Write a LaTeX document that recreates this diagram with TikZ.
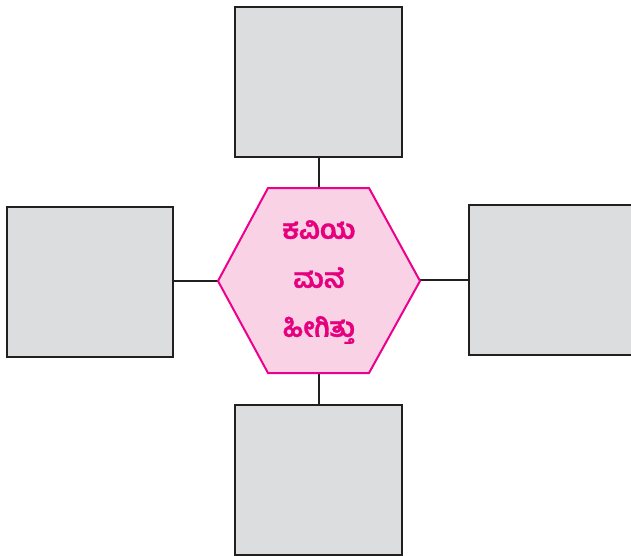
\documentclass[tikz,border=0pt]{standalone}
\usepackage{fontspec}
\newfontfamily\kanfont[Script=Kannada,FakeBold=1.2]{Hind Mysuru}
\definecolor{boxfill}{HTML}{DCDDDF}
\definecolor{boxline}{HTML}{231F20}
\definecolor{hexfill}{HTML}{F9D3E5}
\definecolor{hexline}{HTML}{EC008C}
\definecolor{hextext}{HTML}{E6007E}
\tikzset{
  blank/.style={draw=boxline, fill=boxfill, line width=2.4pt},
  hexshape/.style={draw=hexline, fill=hexfill, line width=2pt, line join=miter},
  link/.style={draw=boxline, line width=2pt}
}
\begin{document}
\begin{tikzpicture}[x=1pt,y=-1pt]
\useasboundingbox (0,0) rectangle (631,556);
\clip (0,0) rectangle (631,556);
% boxes
\node[blank, anchor=north west, minimum width=167pt, minimum height=150pt, inner sep=0pt, outer sep=0pt] (top) at (235,7) {};
\node[blank, anchor=north west, minimum width=167pt, minimum height=150pt, inner sep=0pt, outer sep=0pt] (bottom) at (235,405) {};
\node[blank, anchor=north west, minimum width=166pt, minimum height=150pt, inner sep=0pt, outer sep=0pt] (left) at (7,207) {};
\node[blank, anchor=north west, minimum width=190pt, minimum height=150pt, inner sep=0pt, outer sep=0pt] (right) at (469,205) {};
% hexagon
\coordinate (hl) at (218,281);
\coordinate (htl) at (268,188);
\coordinate (htr) at (369,188);
\coordinate (hr) at (420,281);
\coordinate (hbr) at (369,373);
\coordinate (hbl) at (268,373);
\coordinate (ht) at (318.5,188);
\coordinate (hb) at (318.5,373);
\coordinate (hrc) at (420,280);
% connectors
\draw[link] (top.south -| ht) -- (ht);
\draw[link] (hb) -- (bottom.north -| hb);
\draw[link] (left.east |- hl) -- (hl);
\draw[link] (hrc) -- (right.west |- hrc);
\path[hexshape] (hl) -- (htl) -- (htr) -- (hr) -- (hbr) -- (hbl) -- cycle;
\node[text=hextext, align=center, font=\kanfont\bfseries\fontsize{27}{49}\selectfont] (title) at (319,282) {ಕವಿಯ\\ಮನೆ\\ಹೀಗಿತ್ತು};
\end{tikzpicture}
\end{document}
